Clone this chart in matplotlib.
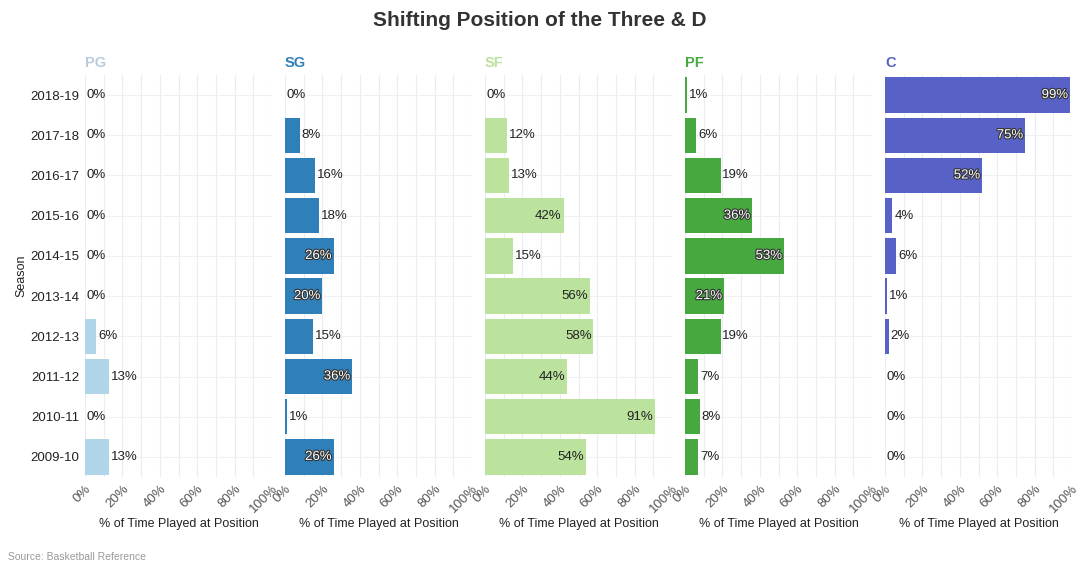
import matplotlib
matplotlib.use("Agg")
import matplotlib.pyplot as plt
import matplotlib.patheffects as pe
from matplotlib.ticker import MultipleLocator

seasons = ["2018-19", "2017-18", "2016-17", "2015-16", "2014-15",
           "2013-14", "2012-13", "2011-12", "2010-11", "2009-10"]
positions = ["PG", "SG", "SF", "PF", "C"]

pg = [0, 0, 0, 0, 0, 0, 6, 13, 0, 13]
sg = [0, 8, 16, 18, 26, 20, 15, 36, 1, 26]
sf = [0, 12, 13, 42, 15, 56, 58, 44, 91, 54]
pf = [1, 6, 19, 36, 53, 21, 19, 7, 8, 7]
c = [99, 75, 52, 4, 6, 1, 2, 0, 0, 0]

series = [pg, sg, sf, pf, c]
bar_colors = ["#b0d4e8", "#2f7fb9", "#bce39e", "#46a83f", "#5761c6"]
title_colors = ["#b9cbdc", "#2f7fb9", "#bce39e", "#46a83f", "#5761c6"]
dark_bars = [False, True, False, True, True]

plt.rcParams["font.family"] = ["Liberation Sans", "DejaVu Sans"]

fig = plt.figure(figsize=(10.8, 5.65), dpi=100, facecolor="white")

fig.text(0.5, 1 - 21 / 565, "Shifting Position of the Three & D", ha="center", va="center",
         fontsize=15, fontweight="bold", color="#333333")

left0 = 85 / 1080
panel_w = 187 / 1080
step = 200 / 1080
bottom = 1 - 477 / 565
height = (477 - 75) / 565

y_pos = list(range(len(seasons)))

for i, (pos, vals) in enumerate(zip(positions, series)):
    ax = fig.add_axes([left0 + i * step, bottom, panel_w, height])
    ax.barh(y_pos, vals, height=0.88, color=bar_colors[i], zorder=2)
    ax.set_xlim(0, 100)
    ax.set_ylim(len(seasons) - 0.5, -0.5)

    ax.xaxis.set_major_locator(MultipleLocator(20))
    ax.xaxis.set_minor_locator(MultipleLocator(10))
    ax.grid(which="both", axis="x", color="#ececf2", linewidth=0.8, zorder=0)
    ax.grid(which="major", axis="y", color="#f1f1f5", linewidth=0.8, zorder=0)
    for s in ax.spines.values():
        s.set_visible(False)
    ax.tick_params(which="both", length=0)

    ticks = [0, 20, 40, 60, 80, 100]
    ax.set_xticks(ticks)
    ax.set_xticklabels([f"{t}%" for t in ticks], rotation=45, ha="right",
                       rotation_mode="anchor", fontsize=9.5, color="#555555")
    ax.tick_params(axis="x", pad=4)
    ax.set_xlabel("% of Time Played at Position", fontsize=9, color="#222222",
                  labelpad=2)

    ax.set_yticks(y_pos)
    if i == 0:
        ax.set_yticklabels(seasons, fontsize=9.5, color="#222222")
        ax.tick_params(axis="y", pad=4)
        ax.set_ylabel("Season", fontsize=9, color="#222222", labelpad=2)
    else:
        ax.set_yticklabels([])

    ax.text(0, -0.62, pos, fontsize=10.5, fontweight="bold", color=title_colors[i],
            ha="left", va="bottom")

    for y, v in zip(y_pos, vals):
        label = f"{v}%"
        if v >= 20:
            if dark_bars[i]:
                ax.text(v - 1, y, label, ha="right", va="center", fontsize=9.5,
                        color="white", zorder=3,
                        path_effects=[pe.withStroke(linewidth=1.6, foreground="#333333")])
            else:
                ax.text(v - 1, y, label, ha="right", va="center", fontsize=9.5,
                        color="#222222", zorder=3)
        else:
            ax.text(v + 1, y, label, ha="left", va="center", fontsize=9.5,
                    color="#222222", zorder=3)

fig.text(8 / 1080, 1 - 557 / 565, "Source: Basketball Reference", fontsize=7.5,
         color="#999999", ha="left", va="center")

fig.savefig("out.png", dpi=100, facecolor="white")
